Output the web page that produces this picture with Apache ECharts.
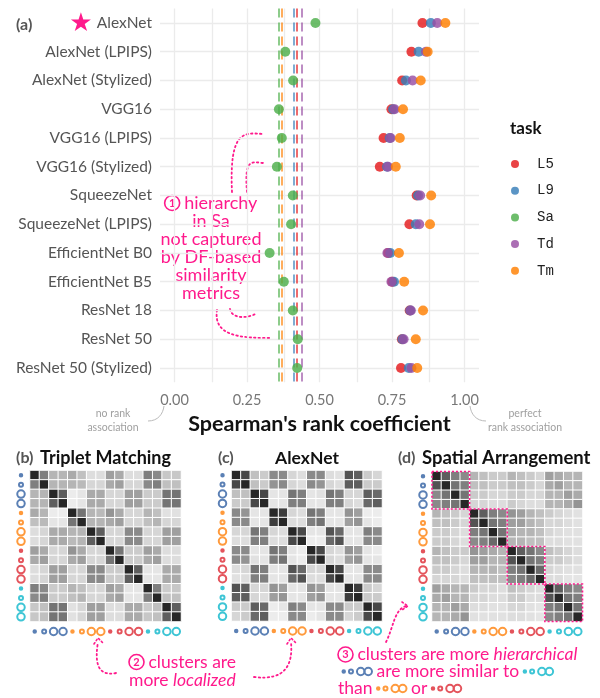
<!DOCTYPE html>
<html>
<head>
<meta charset="utf-8">
<script src="https://cdn.jsdelivr.net/npm/echarts@6/dist/echarts.min.js"></script>
<style>
  html, body { margin: 0; padding: 0; background: #fff; }
  #main { width: 600px; height: 698px; }
</style>
</head>
<body>
<div id="main"></div>
<script>
// ---- panel (a) data ----
const models = ['AlexNet', 'AlexNet (LPIPS)', 'AlexNet (Stylized)', 'VGG16', 'VGG16 (LPIPS)', 'VGG16 (Stylized)',
  'SqueezeNet', 'SqueezeNet (LPIPS)', 'EfficientNet B0', 'EfficientNet B5', 'ResNet 18', 'ResNet 50', 'ResNet 50 (Stylized)'];
const tasks = ['L5', 'L9', 'Sa', 'Td', 'Tm'];
const taskColors = ['#e41a1c', '#377eb8', '#4daf4a', '#984ea3', '#ff7f00'];
const rhoL5 = [0.855, 0.817, 0.785, 0.748, 0.721, 0.708, 0.835, 0.810, 0.737, 0.751, 0.811, 0.784, 0.781];
const rhoL9 = [0.884, 0.842, 0.798, 0.754, 0.742, 0.733, 0.840, 0.832, 0.744, 0.757, 0.813, 0.786, 0.808];
const rhoSa = [0.486, 0.382, 0.409, 0.360, 0.370, 0.353, 0.408, 0.402, 0.328, 0.377, 0.408, 0.425, 0.423];
const rhoTd = [0.906, 0.867, 0.821, 0.759, 0.745, 0.736, 0.847, 0.844, 0.734, 0.748, 0.815, 0.790, 0.817];
const rhoTm = [0.934, 0.873, 0.849, 0.788, 0.777, 0.763, 0.885, 0.881, 0.774, 0.792, 0.857, 0.832, 0.837];
const taskRho = [rhoL5, rhoL9, rhoSa, rhoTd, rhoTm];
// dashed reference line per task
const taskBaseline = [0.416, 0.410, 0.356, 0.440, 0.374];
const xTicks = [0, 0.25, 0.5, 0.75, 1];
const xGrid = [0, 0.125, 0.25, 0.375, 0.5, 0.625, 0.75, 0.875, 1];

// ---- panels (b)-(d): 16 stimuli, 4 colour groups x (tiny, small, large, large) ----
const stimuli = ['b1', 'b2', 'b3', 'b4', 'o1', 'o2', 'o3', 'o4', 'r1', 'r2', 'r3', 'r4', 'c1', 'c2', 'c3', 'c4'];
const groupColors = ['#5b80b5', '#ff9a3c', '#e4545c', '#3ec5d5'];
const dotSizes = [2.5, 4, 7.5, 7.5];

const simTriplet = [
  [0.95, 0.55, 0.30, 0.30, 0.35, 0.25, 0.12, 0.12, 0.40, 0.35, 0.12, 0.12, 0.55, 0.50, 0.22, 0.22],
  [0.55, 0.95, 0.30, 0.30, 0.30, 0.28, 0.15, 0.15, 0.35, 0.40, 0.15, 0.15, 0.50, 0.55, 0.25, 0.25],
  [0.30, 0.30, 0.95, 0.70, 0.05, 0.08, 0.35, 0.35, 0.15, 0.15, 0.40, 0.40, 0.20, 0.20, 0.60, 0.60],
  [0.30, 0.30, 0.70, 0.95, 0.05, 0.08, 0.35, 0.35, 0.15, 0.15, 0.40, 0.40, 0.20, 0.20, 0.60, 0.60],
  [0.35, 0.30, 0.05, 0.05, 0.95, 0.60, 0.30, 0.28, 0.45, 0.35, 0.15, 0.15, 0.30, 0.25, 0.10, 0.10],
  [0.25, 0.28, 0.08, 0.08, 0.60, 0.95, 0.30, 0.30, 0.35, 0.40, 0.15, 0.15, 0.25, 0.30, 0.15, 0.15],
  [0.12, 0.15, 0.35, 0.35, 0.30, 0.30, 0.95, 0.70, 0.15, 0.15, 0.50, 0.50, 0.15, 0.15, 0.40, 0.40],
  [0.12, 0.15, 0.35, 0.35, 0.28, 0.30, 0.70, 0.95, 0.15, 0.15, 0.50, 0.50, 0.15, 0.15, 0.40, 0.40],
  [0.40, 0.35, 0.15, 0.15, 0.45, 0.35, 0.15, 0.15, 0.95, 0.60, 0.20, 0.20, 0.40, 0.35, 0.12, 0.12],
  [0.35, 0.40, 0.15, 0.15, 0.35, 0.40, 0.15, 0.15, 0.60, 0.95, 0.20, 0.20, 0.35, 0.40, 0.12, 0.12],
  [0.12, 0.15, 0.40, 0.40, 0.15, 0.15, 0.50, 0.50, 0.20, 0.20, 0.95, 0.70, 0.08, 0.08, 0.35, 0.35],
  [0.12, 0.15, 0.40, 0.40, 0.15, 0.15, 0.50, 0.50, 0.20, 0.20, 0.70, 0.95, 0.08, 0.08, 0.35, 0.35],
  [0.55, 0.50, 0.20, 0.20, 0.30, 0.25, 0.15, 0.15, 0.40, 0.35, 0.08, 0.08, 0.95, 0.55, 0.20, 0.22],
  [0.50, 0.55, 0.20, 0.20, 0.25, 0.30, 0.15, 0.15, 0.35, 0.40, 0.08, 0.08, 0.55, 0.95, 0.25, 0.25],
  [0.22, 0.25, 0.60, 0.60, 0.10, 0.15, 0.40, 0.40, 0.12, 0.12, 0.35, 0.35, 0.20, 0.25, 0.95, 0.70],
  [0.22, 0.25, 0.60, 0.60, 0.10, 0.15, 0.40, 0.40, 0.12, 0.12, 0.35, 0.35, 0.22, 0.25, 0.70, 0.95]
];
const simAlexNet = [
  [0.95, 0.80, 0.25, 0.20, 0.50, 0.50, 0.15, 0.12, 0.50, 0.50, 0.12, 0.10, 0.75, 0.70, 0.20, 0.15],
  [0.80, 0.95, 0.25, 0.20, 0.45, 0.50, 0.15, 0.12, 0.50, 0.45, 0.15, 0.12, 0.70, 0.70, 0.20, 0.20],
  [0.25, 0.25, 0.95, 0.80, 0.08, 0.08, 0.60, 0.55, 0.08, 0.10, 0.60, 0.55, 0.15, 0.15, 0.70, 0.65],
  [0.20, 0.20, 0.80, 0.95, 0.08, 0.08, 0.55, 0.55, 0.08, 0.08, 0.55, 0.55, 0.15, 0.12, 0.65, 0.70],
  [0.50, 0.45, 0.08, 0.08, 0.95, 0.85, 0.15, 0.12, 0.60, 0.55, 0.08, 0.08, 0.45, 0.40, 0.05, 0.05],
  [0.50, 0.50, 0.08, 0.08, 0.85, 0.95, 0.12, 0.12, 0.55, 0.60, 0.08, 0.08, 0.40, 0.45, 0.08, 0.05],
  [0.15, 0.15, 0.60, 0.55, 0.15, 0.12, 0.95, 0.80, 0.08, 0.08, 0.75, 0.65, 0.08, 0.08, 0.55, 0.50],
  [0.12, 0.12, 0.55, 0.55, 0.12, 0.12, 0.80, 0.95, 0.05, 0.05, 0.65, 0.75, 0.08, 0.08, 0.50, 0.50],
  [0.50, 0.50, 0.08, 0.08, 0.60, 0.55, 0.08, 0.05, 0.95, 0.80, 0.15, 0.12, 0.45, 0.40, 0.08, 0.05],
  [0.50, 0.45, 0.10, 0.08, 0.55, 0.60, 0.08, 0.05, 0.80, 0.95, 0.15, 0.12, 0.40, 0.45, 0.08, 0.08],
  [0.12, 0.15, 0.60, 0.55, 0.08, 0.08, 0.75, 0.65, 0.15, 0.15, 0.95, 0.80, 0.08, 0.08, 0.50, 0.50],
  [0.10, 0.12, 0.55, 0.55, 0.08, 0.08, 0.65, 0.75, 0.12, 0.12, 0.80, 0.95, 0.08, 0.08, 0.50, 0.50],
  [0.75, 0.70, 0.15, 0.15, 0.45, 0.40, 0.08, 0.08, 0.45, 0.40, 0.08, 0.08, 0.95, 0.85, 0.20, 0.15],
  [0.70, 0.70, 0.15, 0.12, 0.40, 0.45, 0.08, 0.08, 0.40, 0.45, 0.08, 0.08, 0.85, 0.95, 0.20, 0.20],
  [0.20, 0.20, 0.70, 0.65, 0.05, 0.08, 0.55, 0.50, 0.08, 0.08, 0.50, 0.50, 0.20, 0.20, 0.95, 0.80],
  [0.15, 0.20, 0.65, 0.70, 0.05, 0.05, 0.50, 0.50, 0.05, 0.08, 0.50, 0.50, 0.15, 0.20, 0.80, 0.95]
];
const simSpatial = [
  [0.95, 0.70, 0.55, 0.50, 0.30, 0.25, 0.20, 0.20, 0.30, 0.25, 0.20, 0.15, 0.40, 0.35, 0.30, 0.30],
  [0.75, 0.95, 0.60, 0.55, 0.25, 0.25, 0.20, 0.20, 0.25, 0.25, 0.20, 0.15, 0.35, 0.40, 0.30, 0.30],
  [0.50, 0.60, 0.95, 0.60, 0.20, 0.20, 0.15, 0.15, 0.20, 0.20, 0.15, 0.15, 0.30, 0.30, 0.40, 0.35],
  [0.50, 0.55, 0.60, 0.95, 0.15, 0.15, 0.12, 0.12, 0.20, 0.15, 0.12, 0.12, 0.30, 0.30, 0.35, 0.45],
  [0.30, 0.25, 0.20, 0.15, 0.95, 0.70, 0.55, 0.50, 0.45, 0.40, 0.30, 0.25, 0.20, 0.15, 0.12, 0.10],
  [0.25, 0.25, 0.20, 0.15, 0.75, 0.95, 0.60, 0.55, 0.40, 0.40, 0.30, 0.25, 0.15, 0.15, 0.12, 0.10],
  [0.20, 0.20, 0.15, 0.12, 0.55, 0.60, 0.95, 0.60, 0.35, 0.30, 0.30, 0.25, 0.15, 0.12, 0.10, 0.10],
  [0.20, 0.20, 0.15, 0.12, 0.50, 0.55, 0.65, 0.95, 0.30, 0.30, 0.25, 0.25, 0.12, 0.12, 0.10, 0.10],
  [0.30, 0.25, 0.20, 0.20, 0.45, 0.40, 0.35, 0.30, 0.95, 0.70, 0.60, 0.50, 0.25, 0.20, 0.15, 0.12],
  [0.25, 0.25, 0.20, 0.15, 0.40, 0.40, 0.30, 0.30, 0.75, 0.95, 0.60, 0.55, 0.20, 0.20, 0.15, 0.12],
  [0.20, 0.20, 0.15, 0.12, 0.30, 0.30, 0.30, 0.25, 0.55, 0.60, 0.95, 0.65, 0.15, 0.12, 0.10, 0.10],
  [0.15, 0.15, 0.15, 0.12, 0.25, 0.25, 0.25, 0.25, 0.50, 0.55, 0.65, 0.95, 0.12, 0.12, 0.08, 0.08],
  [0.40, 0.35, 0.30, 0.30, 0.20, 0.15, 0.15, 0.12, 0.25, 0.20, 0.15, 0.12, 0.95, 0.70, 0.55, 0.50],
  [0.35, 0.40, 0.30, 0.30, 0.15, 0.15, 0.12, 0.12, 0.20, 0.20, 0.12, 0.12, 0.75, 0.95, 0.60, 0.55],
  [0.30, 0.30, 0.40, 0.35, 0.12, 0.12, 0.10, 0.10, 0.15, 0.15, 0.10, 0.08, 0.55, 0.60, 0.95, 0.60],
  [0.30, 0.30, 0.35, 0.45, 0.10, 0.10, 0.10, 0.10, 0.12, 0.12, 0.10, 0.08, 0.50, 0.55, 0.60, 0.95]
];
const spatialBlocks = [[0, 3], [4, 7], [8, 11], [12, 15]];

const pink = '#ff1a8c';
const font = 'Lato, "Noto Sans", sans-serif';

// rich-text circles used for the stimulus markers
const rich = { sp: { width: 4 } };
groupColors.forEach((c, g) => dotSizes.forEach((d, k) => {
  rich['g' + g + 'k' + k] = {
    width: d, height: d, lineHeight: d, borderRadius: d / 2, borderWidth: 1,
    borderColor: c, backgroundColor: k === 0 ? c : 'transparent', verticalAlign: 'middle'
  };
}));
const stimLabel = (v, i) => '{g' + Math.floor(i / 4) + 'k' + (i % 4) + '|}';
const groupIcons = g => '{g' + g + 'k0|}{sp|}{g' + g + 'k1|}{sp|}{g' + g + 'k2|}{g' + g + 'k3|}';
const numRich = {
  width: 15, height: 15, lineHeight: 15, borderRadius: 8, borderWidth: 1.6, borderColor: pink,
  color: pink, fontSize: 11, fontWeight: 'bold', align: 'center', verticalAlign: 'middle', fontFamily: font
};
const annRich = Object.assign({}, rich, {
  n: numRich,
  i: { fontStyle: 'italic', fontSize: 17.5, color: pink, fontFamily: font, lineHeight: 17 }
});

const heatData = m => {
  const out = [];
  m.forEach((row, r) => row.forEach((v, c) => out.push([c, r, v])));
  return out;
};

const heatGrids = [
  { left: 30, top: 470.5, width: 151, height: 151 },
  { left: 231.5, top: 470.5, width: 150.5, height: 150.5 },
  { left: 432, top: 471.5, width: 150.5, height: 150 }
];

const catAxisX = gi => ({
  type: 'category', gridIndex: gi, data: stimuli,
  axisLine: { show: false }, axisTick: { show: false }, splitLine: { show: false },
  axisLabel: { interval: 0, formatter: stimLabel, rich: rich, margin: 10, verticalAlign: 'middle' }
});
const catAxisY = gi => ({
  type: 'category', gridIndex: gi, data: stimuli, inverse: true,
  axisLine: { show: false }, axisTick: { show: false }, splitLine: { show: false },
  axisLabel: { interval: 0, formatter: stimLabel, rich: rich, margin: 9, align: 'center' }
});

const series = [];
// background grid of panel (a)
series.push({
  type: 'scatter', name: 'grid', data: [], silent: true,
  markLine: {
    silent: true, symbol: 'none', z: 0, animation: false,
    label: { show: false },
    lineStyle: { color: '#ebebeb', width: 1.3, type: 'solid' },
    emphasis: { disabled: true },
    data: xGrid.map(v => ({ xAxis: v })).concat(models.map((m, i) => ({ yAxis: i })))
  }
});
tasks.forEach((t, i) => {
  series.push({
    type: 'scatter', name: t, symbolSize: 10, z: 3,
    itemStyle: { color: taskColors[i], opacity: 0.82 },
    data: taskRho[i].map((v, j) => [v, models[j]]),
    markLine: {
      silent: true, symbol: 'none', z: 2, animation: false,
      label: { show: false },
      lineStyle: { color: taskColors[i], width: 1.5, type: [9, 5], opacity: 0.85 },
      emphasis: { disabled: true },
      data: [{ xAxis: taskBaseline[i] }]
    }
  });
});
[simTriplet, simAlexNet, simSpatial].forEach((m, k) => {
  series.push({
    type: 'heatmap', xAxisIndex: k + 1, yAxisIndex: k + 1,
    data: heatData(m),
    itemStyle: { borderColor: '#fff', borderWidth: 1 },
    emphasis: { disabled: true }
  });
});
series.push({
  type: 'custom', xAxisIndex: 3, yAxisIndex: 3, data: spatialBlocks, silent: true, z: 5,
  renderItem: (params, api) => {
    const a = api.coord([api.value(0), api.value(0)]);
    const b = api.coord([api.value(1), api.value(1)]);
    const s = api.size([1, 1]);
    return {
      type: 'rect',
      shape: { x: a[0] - s[0] / 2, y: a[1] - s[1] / 2, width: b[0] - a[0] + s[0], height: b[1] - a[1] + s[1] },
      style: { fill: 'none', stroke: pink, lineWidth: 1.6, lineDash: [2, 2] }
    };
  }
});

const dotted = (shape) => ({
  type: 'bezierCurve', shape: shape, silent: true,
  style: { stroke: pink, lineWidth: 1.8, lineDash: [1.5, 3], lineCap: 'round', fill: null }
});
const chevron = (pts) => ({
  type: 'polyline', shape: { points: pts }, silent: true,
  style: { stroke: pink, lineWidth: 1.6, fill: null, lineDash: [1.5, 2.5], lineCap: 'round' }
});
const txt = (x, y, text, st) => ({
  type: 'text', x: x, y: y, silent: true,
  style: Object.assign({ text: text, fontFamily: font, fill: '#333', fontSize: 14 }, st)
});

const graphic = [
  txt(16, 25, '(a)', { fontSize: 16, fontWeight: 'bold', fill: '#555', verticalAlign: 'middle' }),
  txt(81, 24, '★', { fontSize: 26, fill: pink, align: 'center', verticalAlign: 'middle', fontFamily: 'DejaVu Sans' }),
  txt(510, 129, 'task', { fontSize: 17, fontWeight: 'bold', fill: '#111', verticalAlign: 'middle' }),
  txt(113, 407, 'no rank\nassociation', { fontSize: 10.5, lineHeight: 14, fill: '#a0a0a0', align: 'center', verticalAlign: 'top' }),
  txt(525, 407, 'perfect\nrank association', { fontSize: 10.5, lineHeight: 14, fill: '#a0a0a0', align: 'center', verticalAlign: 'top' }),
  { type: 'bezierCurve', silent: true, shape: { x1: 148, y1: 421, cpx1: 158, cpy1: 421, cpx2: 163, cpy2: 414, x2: 164, y2: 406 },
    style: { stroke: '#bbb', lineWidth: 1, fill: null } },
  { type: 'bezierCurve', silent: true, shape: { x1: 470, y1: 406, cpx1: 471, cpy1: 414, cpx2: 476, cpy2: 421, x2: 486, y2: 421 },
    style: { stroke: '#bbb', lineWidth: 1, fill: null } },
  // annotation 1
  txt(211, 194, '{n|1} hierarchy\nin Sa\nnot captured\nby DF-based\nsimilarity\nmetrics',
    { fontSize: 18, lineHeight: 18, fill: pink, align: 'center', verticalAlign: 'top', rich: annRich }),
  dotted({ x1: 232, y1: 192, cpx1: 229, cpy1: 128, cpx2: 245, cpy2: 133, x2: 264, y2: 134 }),
  dotted({ x1: 247, y1: 192, cpx1: 244, cpy1: 158, cpx2: 252, cpy2: 162, x2: 263, y2: 163 }),
  dotted({ x1: 230, y1: 309, cpx1: 232, cpy1: 320, cpx2: 250, cpy2: 318, x2: 257, y2: 313 }),
  dotted({ x1: 217, y1: 310, cpx1: 213, cpy1: 336, cpx2: 240, cpy2: 338, x2: 270, y2: 338 }),
  // panel titles
  txt(16, 458, '(b)', { fontSize: 16, fontWeight: 'bold', fill: '#555', verticalAlign: 'middle' }),
  txt(40, 458, 'Triplet Matching', { fontSize: 18, fontWeight: 'bold', fill: '#111', verticalAlign: 'middle' }),
  txt(218, 458, '(c)', { fontSize: 16, fontWeight: 'bold', fill: '#555', verticalAlign: 'middle' }),
  txt(307, 458, 'AlexNet', { fontSize: 17.5, fontWeight: 'bold', fill: '#111', align: 'center', verticalAlign: 'middle' }),
  txt(398, 458, '(d)', { fontSize: 16, fontWeight: 'bold', fill: '#555', verticalAlign: 'middle' }),
  txt(422, 458, 'Spatial Arrangement', { fontSize: 18.5, fontWeight: 'bold', fill: '#111', verticalAlign: 'middle' }),
  // annotation 2
  txt(129, 653, '{n|2} clusters are\nmore {i|localized}',
    { fontSize: 17.5, lineHeight: 18, fill: pink, align: 'left', verticalAlign: 'top', rich: annRich }),
  dotted({ x1: 116, y1: 673, cpx1: 96, cpy1: 677, cpx2: 95, cpy2: 660, x2: 98, y2: 642 }),
  chevron([[94, 644], [98, 638], [103, 643]]),
  dotted({ x1: 254, y1: 677, cpx1: 286, cpy1: 681, cpx2: 293, cpy2: 664, x2: 291, y2: 642 }),
  chevron([[287, 644], [291, 638], [296, 643]]),
  // annotation 3
  txt(338, 646, '{n|3} clusters are more {i|hierarchical}\n ' + groupIcons(0) + ' are more similar to ' + groupIcons(3) +
    '\nthan ' + groupIcons(1) + ' or ' + groupIcons(2),
    { fontSize: 17.5, lineHeight: 17, fill: pink, align: 'left', verticalAlign: 'top', rich: annRich }),
  dotted({ x1: 386, y1: 642, cpx1: 394, cpy1: 626, cpx2: 394, cpy2: 610, x2: 406, y2: 606 }),
  chevron([[402, 602], [408, 606], [402, 610]])
];

const option = {
  animation: false,
  backgroundColor: '#fff',
  textStyle: { fontFamily: font },
  legend: {
    data: tasks, orient: 'vertical', left: 506, top: 151,
    itemWidth: 34, itemHeight: 8, itemGap: 10.7, icon: 'circle', selectedMode: false,
    textStyle: { fontFamily: '"Liberation Mono", monospace', fontSize: 14, color: '#222', lineHeight: 16 }
  },
  visualMap: {
    type: 'continuous', show: false, min: 0, max: 1, seriesIndex: [6, 7, 8],
    inRange: { color: ['#f7f7f7', '#1c1c1c'] }
  },
  grid: [{ left: 160, top: 8.6, width: 319, height: 373.75 }].concat(heatGrids),
  xAxis: [{
    type: 'value', gridIndex: 0, min: -0.05, max: 1.05,
    axisLine: { show: false }, axisTick: { show: false, customValues: xTicks }, splitLine: { show: false },
    axisLabel: { customValues: xTicks, formatter: v => v.toFixed(2), color: '#777', fontSize: 14.5, margin: 10 },
    name: "Spearman's rank coefficient", nameLocation: 'middle', nameGap: 31,
    nameTextStyle: { fontSize: 21.5, fontWeight: 'bold', color: '#111', fontFamily: font }
  }, catAxisX(1), catAxisX(2), catAxisX(3)],
  yAxis: [{
    type: 'category', gridIndex: 0, data: models, inverse: true,
    axisLine: { show: false }, axisTick: { show: false }, splitLine: { show: false },
    axisLabel: { color: '#555', fontSize: 15.5, margin: 8 }
  }, catAxisY(1), catAxisY(2), catAxisY(3)],
  series: series,
  graphic: graphic
};

const chart = echarts.init(document.getElementById('main'));
chart.setOption(option);
</script>
</body>
</html>
